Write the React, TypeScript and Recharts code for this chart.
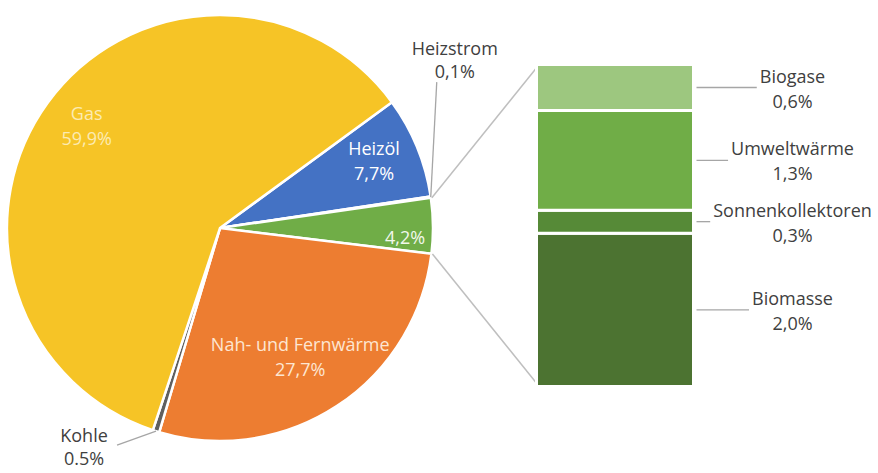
import { PieChart, Pie, Cell, BarChart, Bar, XAxis, YAxis, LabelList } from 'recharts'

// Anteile der Heizungsarten, rechte Säule schlüsselt die Erneuerbaren auf

const W = 878
const H = 473
const FONT = '"Open Sans", sans-serif'
const FS = 18

const pieNames = ['Heizöl', 'Heizstrom', 'Erneuerbare', 'Nah- und Fernwärme', 'Kohle', 'Gas']
const pieValues = [7.7, 0.1, 4.2, 27.7, 0.5, 59.9]
const pieTexts = ['7,7%', '0,1%', '4,2%', '27,7%', '0.5%', '59,9%']
const pieColors = ['#4472C4', '#A5A5A5', '#70AD47', '#ED7D31', '#5F5F5F', '#F6C426']

const barNames = ['Biomasse', 'Sonnenkollektoren', 'Umweltwärme', 'Biogase']
const barKeys = ['biomasse', 'sonnen', 'umwelt', 'biogase']
const barValues = [2.0, 0.3, 1.3, 0.6]
const barTexts = ['2,0%', '0,3%', '1,3%', '0,6%']
const barColors = ['#4C7331', '#568A37', '#70AD47', '#9DC77F']

// Geometrie
const PIE_CX = 220
const PIE_CY = 228
const PIE_R = 213
const START = 36.2
const BAR = { left: 538, top: 66, right: 692, bottom: 385 }

const RADIAN = Math.PI / 180
const polar = (cx: number, cy: number, r: number, a: number) => ({
  x: cx + r * Math.cos(-a * RADIAN),
  y: cy + r * Math.sin(-a * RADIAN),
})

// Innenbeschriftung: radialer Faktor + kleine Winkelkorrektur
const inside: Record<string, { r: number; da: number; fill: string }> = {
  'Gas': { r: 0.79, da: -1.5, fill: '#FCEBB2' },
  'Heizöl': { r: 0.79, da: 1.4, fill: '#FFFFFF' },
  'Erneuerbare': { r: 0.87, da: -3.3, fill: '#F2F8EC' },
  'Nah- und Fernwärme': { r: 0.71, da: -1.2, fill: '#FDE6D2' },
}
// Außenbeschriftung mit Führungslinie
const outside: Record<string, { dx: number; dy: number; tx: number; ty: number }> = {
  'Heizstrom': { dx: 6, dy: -115, tx: 18, ty: -34 },
  'Kohle': { dx: -39, dy: 14, tx: -33, ty: -10 },
}

let ctx: CanvasRenderingContext2D | null = null
function textWidth(t: string) {
  if (!ctx) ctx = document.createElement('canvas').getContext('2d')
  if (!ctx) return t.length * FS * 0.55
  ctx.font = `${FS}px ${FONT}`
  return ctx.measureText(t).width
}

function PieLabel(props: any) {
  const { cx, cy, midAngle, outerRadius, index } = props
  const name = pieNames[index]
  const txt = pieTexts[index]

  if (inside[name]) {
    const cfg = inside[name]
    const p = polar(cx, cy, outerRadius * cfg.r, midAngle + cfg.da)
    const isGreen = name === 'Erneuerbare'
    // Verbindungslinien zur Säule
    let connectors = null
    if (isGreen) {
      const sa = props.startAngle ?? midAngle + 7.5
      const ea = props.endAngle ?? midAngle - 7.5
      const a = polar(cx, cy, outerRadius + 1, sa)
      const b = polar(cx, cy, outerRadius + 1, ea)
      connectors = (
        <g stroke="#BFBFBF" strokeWidth={1.5}>
          <line x1={a.x} y1={a.y} x2={BAR.left} y2={BAR.top} />
          <line x1={b.x} y1={b.y} x2={BAR.left} y2={BAR.bottom} />
        </g>
      )
    }
    return (
      <g>
        {connectors}
        {isGreen ? (
          <text x={p.x} y={p.y} fill={cfg.fill} fontSize={FS} fontFamily={FONT} textAnchor="middle" dominantBaseline="central">{txt}</text>
        ) : (
          <>
            <text x={p.x} y={p.y - 12} fill={cfg.fill} fontSize={FS} fontFamily={FONT} textAnchor="middle" dominantBaseline="central">{name}</text>
            <text x={p.x} y={p.y + 13} fill={cfg.fill} fontSize={FS} fontFamily={FONT} textAnchor="middle" dominantBaseline="central">{txt}</text>
          </>
        )}
      </g>
    )
  }

  if (outside[name]) {
    const cfg = outside[name]
    const e = polar(cx, cy, outerRadius, midAngle)
    const ex = e.x + cfg.dx
    const ey = e.y + cfg.dy
    return (
      <g>
        <line x1={e.x} y1={e.y} x2={ex} y2={ey} stroke="#A6A6A6" strokeWidth={1.3} />
        <text x={ex + cfg.tx} y={ey + cfg.ty} fill="#404040" fontSize={FS} fontFamily={FONT} textAnchor="middle" dominantBaseline="central">{name}</text>
        <text x={ex + cfg.tx} y={ey + cfg.ty + 23} fill="#404040" fontSize={FS} fontFamily={FONT} textAnchor="middle" dominantBaseline="central">{txt}</text>
      </g>
    )
  }
  return null
}

const barLabel = (i: number) => (props: any) => {
  const vb = props.viewBox ?? props
  const x = Number(vb.x), y = Number(vb.y), w = Number(vb.width), h = Number(vb.height)
  const midY = y + h / 2
  const right = x + w
  const center = right + 99
  const name = barNames[i]
  const lineEnd = center - textWidth(name) / 2 - 3
  return (
    <g>
      <line x1={right + 3} y1={midY} x2={lineEnd} y2={midY} stroke="#A6A6A6" strokeWidth={1.3} />
      <text x={center} y={midY - 12} fill="#404040" fontSize={FS} fontFamily={FONT} textAnchor="middle" dominantBaseline="central">{name}</text>
      <text x={center} y={midY + 13} fill="#404040" fontSize={FS} fontFamily={FONT} textAnchor="middle" dominantBaseline="central">{barTexts[i]}</text>
    </g>
  )
}

export default function App() {
  const pieData = pieNames.map((n, i) => ({ name: n, value: pieValues[i] }))
  const barRow: Record<string, any> = { name: 'Erneuerbare' }
  barKeys.forEach((k, i) => { barRow[k] = barValues[i] })
  const barTotal = barValues.reduce((a, b) => a + b, 0)

  return (
    <div style={{ position: 'absolute', left: 0, top: 0, width: W, height: H, background: '#fff', fontFamily: FONT }}>
      <div style={{ position: 'absolute', left: 0, top: 0 }}>
        <PieChart width={W} height={H} margin={{ top: 0, right: 0, bottom: 0, left: 0 }}>
          <Pie
            data={pieData}
            dataKey="value"
            cx={PIE_CX}
            cy={PIE_CY}
            outerRadius={PIE_R}
            startAngle={START}
            endAngle={START - 360}
            stroke="#fff"
            strokeWidth={2.5}
            labelLine={false}
            label={PieLabel}
            isAnimationActive={false}
          >
            {pieData.map((_, i) => (
              <Cell key={i} fill={pieColors[i]} />
            ))}
          </Pie>
        </PieChart>
      </div>
      <div style={{ position: 'absolute', left: 0, top: 0 }}>
        <BarChart
          width={W}
          height={H}
          data={[barRow]}
          margin={{ top: BAR.top - 1.5, left: BAR.left - 1.5, right: W - BAR.right - 1.5, bottom: H - BAR.bottom - 1.5 }}
          barCategoryGap={0}
        >
          <XAxis dataKey="name" hide />
          <YAxis hide domain={[0, barTotal]} />
          {barKeys.map((k, i) => (
            <Bar key={k} dataKey={k} stackId="a" fill={barColors[i]} stroke="#fff" strokeWidth={3} isAnimationActive={false}>
              <LabelList dataKey={k} content={barLabel(i)} />
            </Bar>
          ))}
        </BarChart>
      </div>
    </div>
  )
}
